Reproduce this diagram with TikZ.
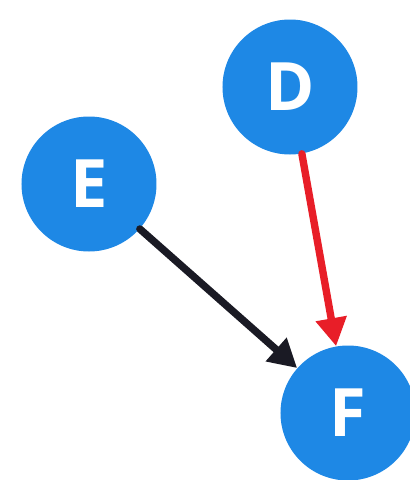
\documentclass[tikz,border=0pt]{standalone}
\usepackage{fontspec}
\setsansfont{Open Sans}
\usetikzlibrary{arrows.meta}

\definecolor{nodeblue}{RGB}{30,136,229}
\definecolor{edgered}{RGB}{232,30,40}
\definecolor{edgeblack}{RGB}{26,26,36}

\begin{document}
\begin{tikzpicture}[
  line cap=round,
  line join=round,
  vertex/.style={
    circle,
    fill=nodeblue,
    minimum size=2.7cm,
    inner sep=0pt,
    text=white,
    font=\sffamily\bfseries\fontsize{38}{40}\selectfont
  },
  edge/.style={
    line width=4.2pt,
    -{Triangle[length=16pt,width=17pt]}
  }
]
  \useasboundingbox (0,0) rectangle (8.2,9.6);

  % Knoten
  \node[vertex] (D) at (5.8,7.86) {D};
  \node[vertex] (E) at (1.78,5.92) {E};
  \node[vertex] (F) at (6.96,1.34) {F};

  % Kanten
  \draw[edge,edgeblack] (E) -- (F);
  \draw[edge,edgered]   (D) -- (F);
\end{tikzpicture}
\end{document}
